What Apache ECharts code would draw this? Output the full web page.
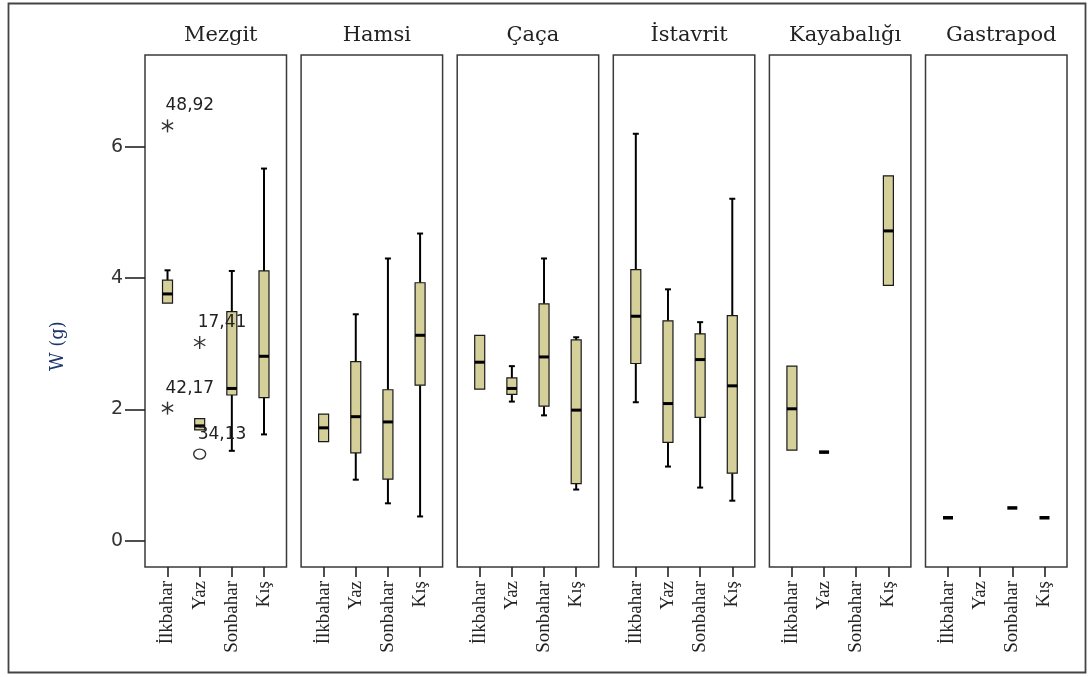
<!DOCTYPE html>
<html><head><meta charset="utf-8">
<script src="https://cdn.jsdelivr.net/npm/echarts@6/dist/echarts.min.js"></script>
<style>html,body{margin:0;padding:0;background:#fff}#c{width:1088px;height:677px}</style>
</head><body><div id="c"></div>
<script>
const seasons = ['İlkbahar', 'Yaz', 'Sonbahar', 'Kış'];
const species = ['Mezgit', 'Hamsi', 'Çaça', 'İstavrit', 'Kayabalığı', 'Gastrapod'];
const yTicks = [0, 2, 4, 6];
const yTitle = 'W (g)';

// [lower whisker, Q1, median, Q3, upper whisker] per season; null = no data
const mezgit = [[3.62, 3.62, 3.76, 3.97, 4.12], [1.69, 1.69, 1.75, 1.86, 1.86], [1.37, 2.22, 2.32, 3.49, 4.11], [1.62, 2.18, 2.81, 4.11, 5.67]];
const hamsi = [[1.51, 1.51, 1.72, 1.93, 1.93], [0.93, 1.34, 1.89, 2.73, 3.45], [0.57, 0.94, 1.81, 2.30, 4.30], [0.37, 2.37, 3.13, 3.93, 4.68]];
const caca = [[2.31, 2.31, 2.72, 3.13, 3.13], [2.12, 2.23, 2.32, 2.48, 2.66], [1.91, 2.05, 2.80, 3.61, 4.30], [0.78, 0.87, 1.99, 3.06, 3.10]];
const istavrit = [[2.11, 2.70, 3.42, 4.13, 6.20], [1.13, 1.50, 2.09, 3.35, 3.83], [0.81, 1.88, 2.76, 3.15, 3.33], [0.61, 1.03, 2.36, 3.43, 5.21]];
const kayabaligi = [[1.38, 1.38, 2.01, 2.66, 2.66], [1.35, 1.35, 1.35, 1.35, 1.35], null, [3.89, 3.89, 4.72, 5.56, 5.56]];
const gastrapod = [[0.35, 0.35, 0.35, 0.35, 0.35], null, [0.50, 0.50, 0.50, 0.50, 0.50], [0.35, 0.35, 0.35, 0.35, 0.35]];
const stats = [mezgit, hamsi, caca, istavrit, kayabaligi, gastrapod];

// Mezgit outliers
const outlierSeason = [0, 1, 0, 1];
const outlierValue = [6.32, 3.02, 2.02, 1.32];
const outlierLabel = ['48,92', '17,41', '42,17', '34,13'];
const outlierKind = ['star', 'star', 'star', 'circle'];

const chart = echarts.init(document.getElementById('c'), null, {renderer: 'canvas'});

const gridLeft0 = 145, gridPitch = 156.1, gridW = 141.5, gridTop = 55, gridH = 512;
const grids = [], xAxes = [], yAxes = [], series = [], titles = [];

function renderBox(params, api) {
  const x = api.value(0);
  const lo = api.value(1), q1 = api.value(2), md = api.value(3), q3 = api.value(4), hi = api.value(5);
  const pLo = api.coord([x, lo]), pQ1 = api.coord([x, q1]), pMd = api.coord([x, md]);
  const pQ3 = api.coord([x, q3]), pHi = api.coord([x, hi]);
  const cx = pMd[0], hb = 5, hc = 3;
  const ch = [];
  if (hi === lo) {
    ch.push({type: 'rect', shape: {x: cx - 5, y: pMd[1] - 1.75, width: 10, height: 3.5}, style: {fill: '#000'}});
    return {type: 'group', children: ch};
  }
  const ws = {stroke: '#000', lineWidth: 2};
  if (hi > q3) {
    ch.push({type: 'line', shape: {x1: cx, y1: pQ3[1], x2: cx, y2: pHi[1]}, style: ws});
    ch.push({type: 'line', shape: {x1: cx - hc, y1: pHi[1], x2: cx + hc, y2: pHi[1]}, style: ws});
  }
  if (lo < q1) {
    ch.push({type: 'line', shape: {x1: cx, y1: pQ1[1], x2: cx, y2: pLo[1]}, style: ws});
    ch.push({type: 'line', shape: {x1: cx - hc, y1: pLo[1], x2: cx + hc, y2: pLo[1]}, style: ws});
  }
  ch.push({type: 'rect', shape: {x: cx - hb, y: pQ3[1], width: 2 * hb, height: pQ1[1] - pQ3[1]},
    style: {fill: '#d5cf9a', stroke: '#1a1a1a', lineWidth: 1.2}});
  ch.push({type: 'line', shape: {x1: cx - hb, y1: pMd[1], x2: cx + hb, y2: pMd[1]}, style: {stroke: '#000', lineWidth: 3}});
  return {type: 'group', children: ch};
}

function renderOutlier(params, api) {
  const idx = api.value(2);
  const p = api.coord([api.value(0), api.value(1)]);
  const ch = [];
  const st = {stroke: '#333', lineWidth: 1.4};
  if (outlierKind[idx] === 'star') {
    const r = 6.5;
    [90, 30, 150].forEach(function (a) {
      const rad = a * Math.PI / 180;
      ch.push({type: 'line', shape: {x1: p[0] - r * Math.cos(rad), y1: p[1] - r * Math.sin(rad),
        x2: p[0] + r * Math.cos(rad), y2: p[1] + r * Math.sin(rad)}, style: st});
    });
  } else {
    ch.push({type: 'ellipse', shape: {cx: p[0], cy: p[1], rx: 6, ry: 5}, style: {fill: 'none', stroke: '#333', lineWidth: 1.4}});
  }
  ch.push({type: 'text', x: p[0] - 2, y: p[1] - 20, style: {text: outlierLabel[idx], fill: '#222',
    font: '17px "DejaVu Sans"', align: 'left', verticalAlign: 'middle'}});
  return {type: 'group', children: ch};
}

species.forEach(function (name, g) {
  const left = gridLeft0 + g * gridPitch;
  grids.push({left: left, top: gridTop, width: gridW, height: gridH, show: true,
    borderColor: '#3a3a3a', borderWidth: 1.5, backgroundColor: 'transparent', containLabel: false});
  xAxes.push({type: 'value', gridIndex: g, min: -0.7, max: 3.7, position: 'bottom',
    axisLine: {show: false, onZero: false}, splitLine: {show: false},
    axisTick: {show: true, customValues: [0, 1, 2, 3], length: 10, lineStyle: {color: '#222', width: 1.6}},
    axisLabel: {show: true, customValues: [0, 1, 2, 3], rotate: 90, margin: 14,
      formatter: function (v) { return seasons[Math.round(v)]; },
      fontFamily: 'Liberation Serif', fontSize: 19, color: '#222'}});
  yAxes.push({type: 'value', gridIndex: g, min: -0.4, max: 7.4, position: 'left',
    axisLine: {show: false, onZero: false}, splitLine: {show: false},
    axisTick: {show: g === 0, customValues: yTicks, length: 20, lineStyle: {color: '#222', width: 1.6}},
    axisLabel: {show: g === 0, customValues: yTicks, margin: 22, fontFamily: 'DejaVu Sans', fontSize: 19, color: '#333'}});
  titles.push({text: name, left: left + gridW / 2, top: 20, textAlign: 'center',
    textStyle: {fontFamily: 'DejaVu Serif', fontSize: 21, fontWeight: 'normal', color: '#222'}});
  const data = [];
  stats[g].forEach(function (s, i) { if (s) data.push([i].concat(s)); });
  series.push({type: 'custom', xAxisIndex: g, yAxisIndex: g, renderItem: renderBox, data: data,
    encode: {x: 0, y: [1, 2, 3, 4, 5]}, silent: true});
});

const outData = outlierValue.map(function (v, i) { return [outlierSeason[i], v, i]; });
series.push({type: 'custom', xAxisIndex: 0, yAxisIndex: 0, renderItem: renderOutlier, data: outData,
  encode: {x: 0, y: 1}, silent: true});

chart.setOption({
  animation: false,
  backgroundColor: '#fff',
  title: titles,
  grid: grids, xAxis: xAxes, yAxis: yAxes, series: series,
  graphic: [
    {type: 'rect', shape: {x: 8.5, y: 3.5, width: 1077, height: 669}, style: {fill: 'none', stroke: '#444', lineWidth: 1.8}, silent: true},
    {type: 'text', x: 58, y: 346, rotation: Math.PI / 2, style: {text: yTitle, font: '18px "DejaVu Serif"', fill: '#1f3570', align: 'center', verticalAlign: 'middle'}, silent: true}
  ]
});
</script></body></html>
